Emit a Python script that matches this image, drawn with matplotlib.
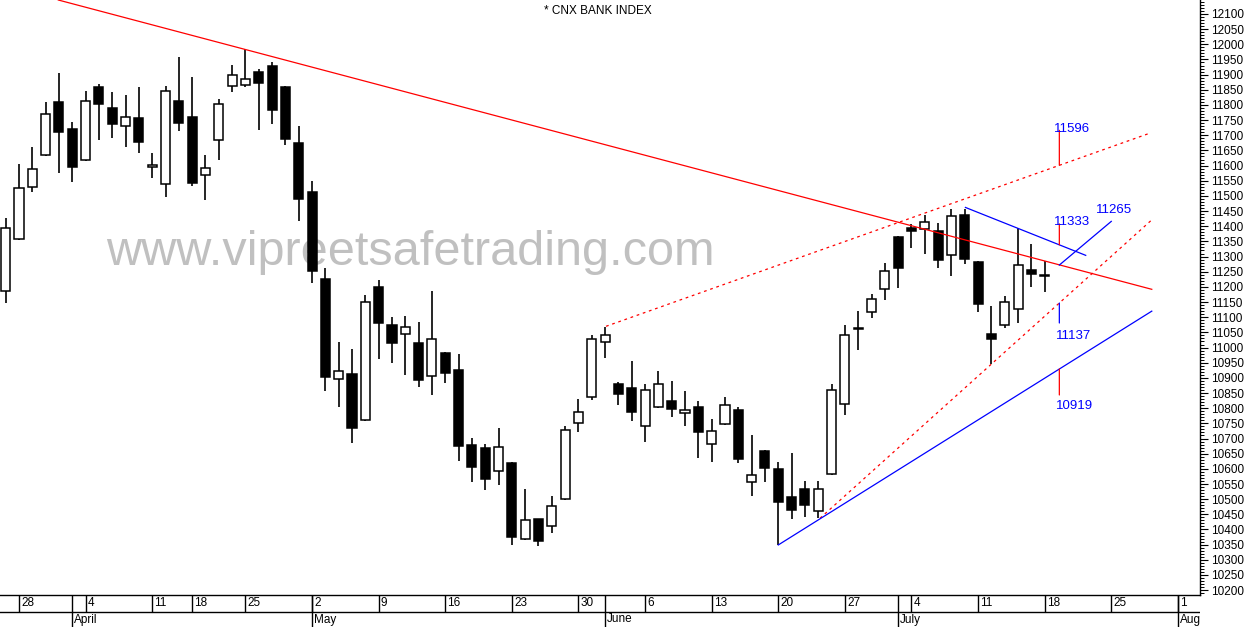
import matplotlib
matplotlib.use('Agg')
import matplotlib.pyplot as plt
from matplotlib.ticker import MultipleLocator, NullFormatter
import numpy as np

plt.rcParams['font.family'] = ['Liberation Sans', 'DejaVu Sans']

# ---------------- data (CNX Bank Index, daily candles, 25 Mar - 18 Jul 2011) ----------------
opens = [11186, 11358, 11528, 11634, 11809, 11720, 11617, 11858, 11789, 11730,
         11756, 11594, 11538, 11813, 11760, 11569, 11683, 11862, 11865, 11909,
         11928, 11859, 11674, 11512, 11226, 10895, 10913, 10760, 11200, 11074,
         11044, 11015, 10905, 10982, 10926, 10679, 10669, 10592, 10619, 10368,
         10434, 10410, 10500, 10750, 10836, 11017, 10879, 10866, 10742, 10805,
         10824, 10783, 10803, 10681, 10748, 10793, 10556, 10659, 10599, 10507,
         10533, 10461, 10582, 10815, 11064, 11116, 11192, 11365, 11393, 11390,
         11384, 11304, 11436, 11282, 11044, 11073, 11126, 11256, 11240]
highs = [11427, 11605, 11661, 11810, 11905, 11743, 11846, 11870, 11843, 11833,
         11858, 11641, 11863, 11958, 11891, 11634, 11820, 11932, 11984, 11918,
         11943, 11863, 11731, 11549, 11262, 11018, 10995, 11173, 11223, 11101,
         11104, 11084, 11186, 10984, 10978, 10702, 10682, 10735, 10621, 10533,
         10436, 10510, 10741, 10830, 11041, 11067, 10886, 10956, 10880, 10923,
         10890, 10857, 10824, 10764, 10837, 10804, 10712, 10661, 10622, 10652,
         10561, 10561, 10880, 11074, 11120, 11178, 11280, 11368, 11406, 11436,
         11410, 11456, 11457, 11284, 11137, 11170, 11393, 11341, 11285]
lows = [11147, 11355, 11514, 11630, 11577, 11547, 11615, 11685, 11692, 11662,
        11643, 11560, 11497, 11715, 11534, 11487, 11619, 11844, 11860, 11718,
        11738, 11669, 11416, 11212, 10858, 10805, 10686, 10757, 10963, 10950,
        10910, 10871, 10844, 10884, 10627, 10558, 10531, 10548, 10349, 10365,
        10346, 10389, 10497, 10722, 10827, 10966, 10811, 10759, 10689, 10802,
        10772, 10742, 10637, 10624, 10745, 10620, 10511, 10558, 10349, 10436,
        10442, 10437, 10580, 10778, 10993, 11098, 11158, 11197, 11329, 11308,
        11263, 11237, 11277, 11116, 10947, 11065, 11082, 11201, 11184]
closes = [11393, 11527, 11588, 11769, 11712, 11596, 11812, 11804, 11738, 11759,
          11679, 11602, 11845, 11742, 11544, 11591, 11802, 11898, 11885, 11873,
          11784, 11689, 11491, 11253, 10904, 10922, 10736, 11149, 11082, 11016,
          11067, 10894, 11027, 10917, 10676, 10607, 10566, 10671, 10376, 10430,
          10363, 10476, 10728, 10788, 11027, 11040, 10848, 10788, 10859, 10879,
          10798, 10793, 10722, 10724, 10809, 10633, 10579, 10604, 10492, 10465,
          10482, 10533, 10859, 11040, 11060, 11159, 11251, 11263, 11385, 11413,
          11290, 11433, 11293, 11145, 11029, 11149, 11272, 11242, 11235]

week_ticks = [1, 6, 11, 14, 18, 23, 28, 33, 38, 43, 48, 53, 58, 63, 68, 73, 78, 83, 88]
week_labels = ['28', '4', '11', '18', '25', '2', '9', '16', '23', '30', '6', '13',
               '20', '27', '4', '11', '18', '25', '1']
month_ticks = [5, 23, 45, 67, 88]
month_labels = ['April', 'May', 'June', 'July', 'Aug']

# trend lines, as (index, value) end points
red_main = [(3.95, 12146), (86.04, 11192)]
red_upper = [(45.07, 11070), (85.84, 11706)]
red_lower = [(61.13, 10437), (86.04, 11421)]
blue_support = [(58.0, 10349), (86.04, 11120)]
blue_falling = [(72.05, 11462), (81.08, 11304)]
blue_short = [(79.1, 11272), (83.0, 11416)]
mark_x = 79.1

title = '* CNX BANK INDEX'
watermark = 'www.vipreetsafetrading.com'

# ---------------- figure ----------------
W, H = 1250, 627
fig = plt.figure(figsize=(W / 100, H / 100), dpi=100)
ax = fig.add_axes([0, 32 / H, 1200 / W, 595 / H])
axb = fig.add_axes([0, 0, 1200 / W, 32 / H])

x = np.arange(len(opens))
o = np.array(opens); c = np.array(closes); hi = np.array(highs); lo = np.array(lows)
up = c >= o

ax.vlines(x, lo, hi, color='black', lw=1.2, zorder=3)
bottoms = np.minimum(o, c)
heights = np.abs(c - o)
ax.bar(x, heights, bottom=bottoms, width=0.68,
       color=np.where(up, 'white', 'black'), edgecolor='black', lw=1.1, zorder=4)

# watermark
ax.text(0.3417, 0.5546, watermark, transform=ax.transAxes, ha='center', va='baseline',
        fontsize=35, color='#c0c0c0', zorder=1)
# title
ax.text(0.498, 0.9815, title, transform=ax.transAxes, ha='center', va='center',
        fontsize=8.5, color='black')

RED = '#ff0000'
BLUE = '#0000ff'
dot = (0, (2.2, 3.0))


def draw(line, color, ls='-'):
    (x0, y0), (x1, y1) = line
    ax.plot([x0, x1], [y0, y1], color=color, lw=0.9, linestyle=ls, zorder=5)


def at(line, xv):
    (x0, y0), (x1, y1) = line
    return y0 + (y1 - y0) * (xv - x0) / (x1 - x0)


draw(red_main, RED)
draw(red_upper, RED, dot)
draw(red_lower, RED, dot)
draw(blue_support, BLUE)
draw(blue_falling, BLUE)
draw(blue_short, BLUE)

# marker ticks and labels
marks = [
    ('11596', red_upper, 25.2, RED, (-3.6, 23.8)),
    ('11333', blue_falling, 15.1, RED, (-3.6, 14.6)),
    ('11137', red_lower, -14.4, BLUE, (-2.6, -26.1)),
    ('10919', blue_support, -18.7, RED, (-2.6, -29.0)),
]
for lab, line, tl, tc, off in marks:
    yv = at(line, mark_x)
    ax.annotate('', xy=(mark_x, yv), xytext=(0, tl), textcoords='offset points',
                arrowprops=dict(arrowstyle='-', color=tc, lw=0.9, shrinkA=0, shrinkB=0),
                zorder=5)
    ax.annotate(lab, xy=(mark_x, yv), xytext=off, textcoords='offset points',
                ha='left', va='baseline', fontsize=9.5, color=BLUE, zorder=6)
ax.annotate('11265', xy=blue_short[1], xytext=(-11.2, 5.8), textcoords='offset points',
            ha='left', va='baseline', fontsize=9.5, color=BLUE, zorder=6)

# axes styling
xlim = (-0.426, 89.66)
ax.set_xlim(*xlim)
ax.set_ylim(10184, 12146)
for s in ['left', 'top']:
    ax.spines[s].set_visible(False)
ax.spines['right'].set_linewidth(1.0)
ax.spines['bottom'].set_linewidth(1.0)
ax.set_xticks([])
ax.yaxis.tick_right()
ax.yaxis.set_major_locator(MultipleLocator(50))
ax.yaxis.set_minor_locator(MultipleLocator(10))
ax.yaxis.set_minor_formatter(NullFormatter())
ax.tick_params(axis='y', which='major', length=5.8, width=0.8, pad=2.2, labelsize=8.5,
               direction='out')
ax.tick_params(axis='y', which='minor', length=2.9, width=0.7, direction='out')

# date strip
axb.set_xlim(*xlim)
axb.set_ylim(0, 32)
axb.axis('off')
axb.axhline(15, color='black', lw=1.0)
axb.vlines(week_ticks, 15, 32, color='black', lw=1.0)
axb.vlines(month_ticks, 0, 32, color='black', lw=1.0)
for t, l in zip(week_ticks, week_labels):
    axb.annotate(l, xy=(t, 23.5), xytext=(1.5, 0), textcoords='offset points',
                 ha='left', va='center', fontsize=8.5, clip_on=True)
for t, l in zip(month_ticks, month_labels):
    axb.annotate(l, xy=(t, 7.5), xytext=(1.5, 0), textcoords='offset points',
                 ha='left', va='center', fontsize=8.5, clip_on=True)

fig.savefig('out.png', dpi=100)
